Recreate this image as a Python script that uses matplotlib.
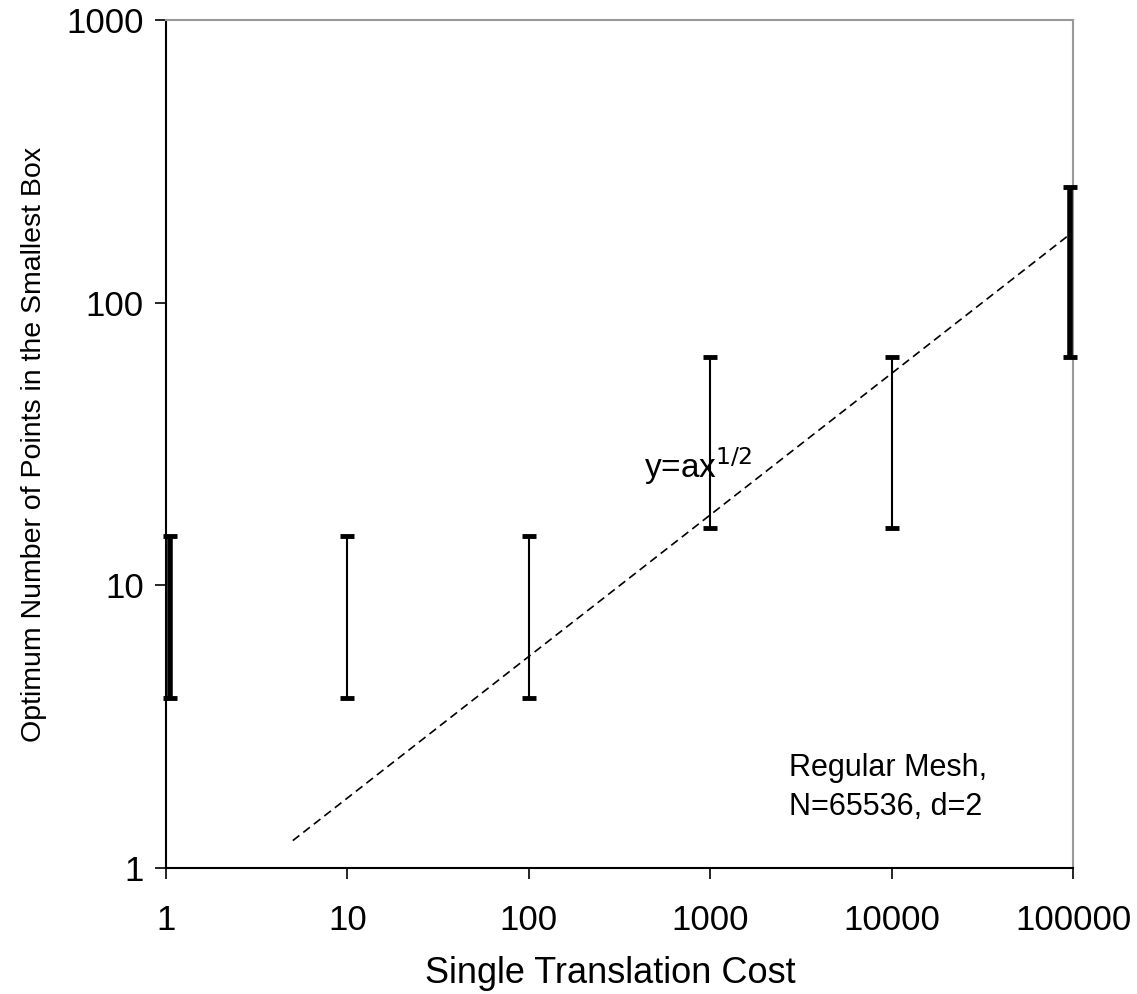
import matplotlib
matplotlib.use("Agg")
import matplotlib.pyplot as plt
import matplotlib.transforms as mtransforms

plt.rcParams['font.family'] = ['Liberation Sans', 'DejaVu Sans']

# Data
cost = [1, 10, 100, 1000, 10000, 100000]
low = [4, 4, 4, 16, 16, 64]
high = [15, 15, 15, 64, 64, 256]
widths = [4, 1.5, 1.5, 1.5, 1.5, 4]
fit_x = [5, 100000]
fit_y = [1.25, 178]
xticks = [1, 10, 100, 1000, 10000, 100000]
xtick_labels = ["1", "10", "100", "1000", "10000", "100000"]
yticks = [1, 10, 100, 1000]
ytick_labels = ["1", "10", "100", "1000"]

fig = plt.figure(figsize=(11.37, 9.94), dpi=100)
ax = fig.add_axes([166/1137, 1-868/994, (1073-166)/1137, (868-20)/994])
ax.set_xscale('log')
ax.set_yscale('log')
ax.set_xlim(1, 100000)
ax.set_ylim(1, 1000)

offsets = [4, 0, 0, 0, 0, -3]
for x, lo, hi, w, dx in zip(cost, low, high, widths, offsets):
    mid = (lo * hi) ** 0.5
    tr = mtransforms.offset_copy(ax.transData, fig=fig, x=dx, y=0, units='dots')
    ax.errorbar([x], [mid], yerr=[[mid - lo], [hi - mid]], fmt='none',
                ecolor='black', elinewidth=w, capsize=5, capthick=3.5,
                clip_on=False, zorder=3, transform=tr)

ax.plot(fit_x, fit_y, linestyle=(0, (5, 3)), color='black', linewidth=1.2)

ax.text(430, 23.9, r"y=ax$^{1/2}$", fontsize=24, va='baseline', ha='left')
ax.text(2717, 2.26, "Regular Mesh,", fontsize=22, va='center', ha='left')
ax.text(2717, 1.64, "N=65536, d=2", fontsize=22, va='center', ha='left')

ax.set_xticks(xticks)
ax.set_xticklabels(xtick_labels)
ax.set_yticks(yticks)
ax.set_yticklabels(ytick_labels)
ax.minorticks_off()
ax.tick_params(axis='both', which='major', labelsize=25, length=8, width=1.2,
               direction='out', color='black')
ax.tick_params(axis='x', pad=18)
ax.tick_params(axis='y', pad=8)

for s in ['left', 'bottom']:
    ax.spines[s].set_color('black')
    ax.spines[s].set_linewidth(1.5)
for s in ['top', 'right']:
    ax.spines[s].set_color('#999999')
    ax.spines[s].set_linewidth(1.5)

ax.set_xlabel("Single Translation Cost", fontsize=26)
ax.xaxis.set_label_coords(0.49, -0.104)
ax.xaxis.label.set_va('top')
ax.set_ylabel("Optimum Number of Points in the Smallest Box", fontsize=20.5, labelpad=14)

fig.savefig("out.png", dpi=100)
